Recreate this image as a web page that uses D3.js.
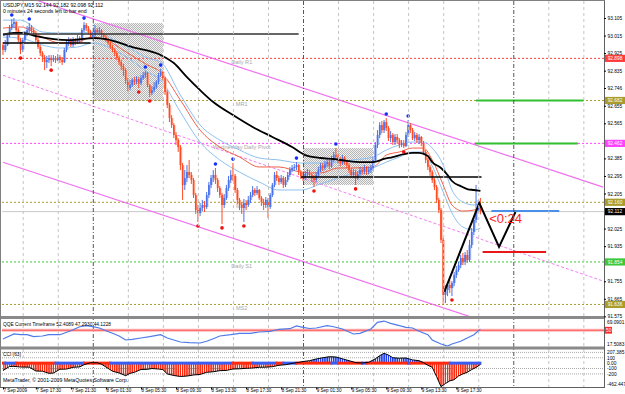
<!DOCTYPE html>
<html>
<head>
<meta charset="utf-8">
<script src="https://cdn.jsdelivr.net/npm/d3@7"></script>
<style>
  body { margin: 0; background: #fff; }
  svg { display: block; }
  text { font-family: "Liberation Sans", Arial, sans-serif; }
</style>
</head>
<body>
<svg id="chart" width="625" height="394"></svg>
<script>
// ---- bar data (USDJPY M15), bar 0 = 7 Sep 13:45 ----
const firstOpen = 92.966;
const closes = [
  92.941,92.966,93.018,93.053,93.074,93.084,93.043,92.992,92.941,92.992,
  93.028,93.043,93.059,93.043,93.028,92.992,92.956,92.925,92.905,92.879,
  92.889,92.900,92.889,92.900,92.889,92.905,92.889,92.879,92.941,92.977,
  92.992,92.966,92.992,92.982,93.002,92.992,93.043,93.069,93.053,93.033,
  93.007,93.018,93.043,93.033,93.043,93.018,93.007,92.992,92.977,92.956,
  92.941,92.925,92.900,92.879,92.858,92.838,92.787,92.746,92.761,92.787,
  92.776,92.792,92.771,92.797,92.812,92.823,92.761,92.720,92.735,92.751,
  92.776,92.812,92.828,92.797,92.725,92.659,92.592,92.556,92.505,92.479,
  92.443,92.351,92.249,92.284,92.315,92.300,92.274,92.197,92.120,92.105,
  92.131,92.146,92.136,92.197,92.249,92.284,92.300,92.274,92.233,92.197,
  92.146,92.182,92.233,92.274,92.300,92.295,92.223,92.172,92.146,92.131,
  92.156,92.146,92.172,92.197,92.223,92.208,92.223,92.182,92.161,92.146,
  92.172,92.136,92.197,92.249,92.300,92.284,92.264,92.284,92.249,92.274,
  92.300,92.325,92.336,92.341,92.351,92.315,92.295,92.284,92.305,92.315,
  92.300,92.284,92.274,92.300,92.325,92.346,92.336,92.356,92.366,92.346,
  92.377,92.402,92.392,92.377,92.361,92.387,92.366,92.351,92.325,92.300,
  92.315,92.284,92.305,92.325,92.315,92.336,92.315,92.325,92.336,92.377,
  92.454,92.505,92.556,92.530,92.571,92.541,92.489,92.505,92.469,92.495,
  92.479,92.454,92.464,92.448,92.505,92.556,92.530,92.489,92.505,92.479,
  92.495,92.464,92.418,92.377,92.341,92.315,92.274,92.238,92.172,92.120,
  91.967,91.685,91.710,91.736,91.720,91.746,91.787,91.813,91.838,91.874,
  91.854,91.890,91.864,91.941,92.008,92.069,92.120,92.144,92.112
];
const highs = [
  92.982,92.992,93.028,93.069,93.100,93.105,93.089,93.053,93.002,93.002,
  93.038,93.064,93.079,93.069,93.053,93.038,93.002,92.966,92.935,92.915,
  92.910,92.915,92.915,92.915,92.910,92.920,92.915,92.905,92.951,92.992,
  93.007,93.002,93.007,93.002,93.018,93.012,93.053,93.084,93.079,93.064,
  93.043,93.033,93.069,93.053,93.059,93.048,93.028,93.018,93.002,92.987,
  92.966,92.951,92.935,92.910,92.889,92.869,92.848,92.797,92.787,92.797,
  92.802,92.807,92.802,92.812,92.828,92.833,92.828,92.766,92.756,92.776,
  92.787,92.823,92.843,92.833,92.802,92.735,92.669,92.607,92.566,92.520,
  92.489,92.454,92.361,92.325,92.351,92.377,92.315,92.284,92.208,92.146,
  92.156,92.172,92.167,92.213,92.264,92.300,92.325,92.336,92.284,92.243,
  92.208,92.202,92.249,92.295,92.325,92.361,92.305,92.233,92.182,92.161,
  92.177,92.172,92.192,92.213,92.243,92.233,92.243,92.228,92.192,92.177,
  92.187,92.182,92.208,92.259,92.315,92.320,92.295,92.300,92.295,92.290,
  92.315,92.341,92.351,92.356,92.366,92.356,92.325,92.315,92.320,92.331,
  92.325,92.310,92.300,92.315,92.341,92.361,92.361,92.372,92.387,92.377,
  92.397,92.418,92.438,92.407,92.392,92.402,92.397,92.377,92.361,92.336,
  92.331,92.325,92.320,92.341,92.336,92.351,92.346,92.341,92.351,92.392,
  92.469,92.530,92.571,92.577,92.582,92.592,92.551,92.525,92.515,92.510,
  92.510,92.489,92.479,92.479,92.520,92.582,92.566,92.541,92.520,92.515,
  92.510,92.500,92.474,92.428,92.387,92.351,92.325,92.284,92.249,92.182,
  92.131,91.977,91.736,91.751,91.761,91.756,91.803,91.833,91.854,91.890,
  91.900,91.905,91.915,91.967,92.028,92.090,92.249,92.172,92.182
];
const lows = [
  92.915,92.930,92.961,93.007,93.043,93.053,93.033,92.982,92.920,92.930,
  92.982,93.012,93.028,93.028,93.012,92.982,92.946,92.910,92.879,92.838,
  92.848,92.874,92.858,92.879,92.874,92.884,92.874,92.864,92.874,92.930,
  92.961,92.956,92.956,92.966,92.971,92.977,92.982,93.033,93.038,93.023,
  92.997,92.997,93.007,93.023,93.023,93.007,92.997,92.982,92.966,92.946,
  92.930,92.910,92.889,92.864,92.838,92.807,92.766,92.730,92.735,92.751,
  92.761,92.766,92.746,92.761,92.787,92.797,92.751,92.700,92.710,92.725,
  92.741,92.766,92.802,92.787,92.710,92.643,92.571,92.541,92.489,92.454,
  92.418,92.325,92.172,92.223,92.264,92.284,92.254,92.182,92.100,92.059,
  92.090,92.115,92.110,92.126,92.182,92.233,92.264,92.254,92.213,92.182,
  92.049,92.131,92.172,92.218,92.259,92.269,92.208,92.151,92.120,92.100,
  92.059,92.120,92.136,92.156,92.187,92.192,92.197,92.172,92.141,92.120,
  92.131,92.079,92.126,92.187,92.238,92.269,92.249,92.254,92.233,92.238,
  92.264,92.290,92.315,92.320,92.325,92.300,92.279,92.269,92.274,92.290,
  92.284,92.264,92.238,92.264,92.290,92.315,92.320,92.325,92.341,92.331,
  92.336,92.366,92.377,92.361,92.346,92.351,92.351,92.336,92.310,92.284,
  92.284,92.249,92.274,92.295,92.300,92.305,92.300,92.305,92.310,92.325,
  92.366,92.438,92.489,92.515,92.515,92.525,92.474,92.469,92.454,92.454,
  92.459,92.438,92.443,92.438,92.443,92.495,92.515,92.479,92.474,92.464,
  92.459,92.448,92.402,92.361,92.325,92.295,92.259,92.223,92.156,92.105,
  91.951,91.633,91.643,91.679,91.695,91.679,91.730,91.772,91.803,91.823,
  91.838,91.838,91.849,91.854,91.925,91.992,92.054,92.105,92.098
];

// fractal markers (bar index)
const fractalUp = [4, 12, 37, 65, 72, 97, 105, 134, 152, 175, 185];
const fractalDown = [8, 22, 62, 67, 89, 100, 110, 142, 161, 183, 205];

// slow moving average (black)
const maIdx = [0,5,9,15,30,42,47,59,72,78,84,90,96,105,114,123,132,138,145,151,157,163,169,174,178,183,187,190,194,196,200,203,205,209,212,215,218];
const maVals = [93.018,93.028,93.028,93.012,92.992,93.002,92.997,92.956,92.915,92.874,92.802,92.735,92.674,92.607,92.546,92.495,92.443,92.402,92.387,92.382,92.372,92.366,92.366,92.382,92.392,92.407,92.413,92.413,92.397,92.366,92.336,92.300,92.269,92.243,92.228,92.223,92.218];

// fast average (red) with its envelope (light blue)
const bandIdx = [0,8,18,26,34,41,47,57,66,72,81,90,99,108,117,126,136,145,153,160,169,175,181,187,192,196,201,205,210,215,218];
const bandUp = [93.094,93.094,93.033,93.028,93.028,93.033,93.012,92.956,92.900,92.879,92.710,92.556,92.479,92.428,92.387,92.377,92.361,92.361,92.366,92.377,92.392,92.428,92.454,92.469,92.469,92.438,92.351,92.223,92.161,92.146,92.156];
const bandMid = [93.053,93.059,93.007,92.977,92.982,93.007,92.992,92.925,92.864,92.828,92.684,92.530,92.443,92.392,92.341,92.341,92.315,92.310,92.336,92.336,92.341,92.402,92.418,92.438,92.438,92.377,92.249,92.146,92.115,92.120,92.136];
const bandLow = [93.007,93.002,92.966,92.951,92.956,92.977,92.961,92.900,92.828,92.787,92.623,92.469,92.377,92.315,92.264,92.223,92.223,92.254,92.284,92.310,92.336,92.366,92.392,92.418,92.418,92.346,92.213,92.105,92.033,92.018,92.028];

// pivot levels
const pivotVals = [92.898, 92.682, 92.462, 92.160, 91.854, 91.636];
const pivotNames = ["Daily R1", "MR1", "Wednesday Daily Pivot", "MS1", "Daily S1", "MS2"];
const pivotColors = ["#ff3c3c", "#a99b2c", "#ff44ff", "#a99b2c", "#3cc83c", "#a99b2c"];
const bidPrice = 92.112;

// drawn objects: [startBar, endBar, price] etc.
const boxes = [[41, 73, 93.079, 92.679], [137, 169, 92.438, 92.249]];
const blackLevels = [[0, 135, 93.023], [0, 40, 92.977], [136, 218.5, 92.290]];
const channelSolid = [[[0, 93.253], [274, 92.238]], [[0, 92.365], [274, 91.348]]];
const channelMid = [[0, 92.811], [274, 91.756]];
const greenSegs = [[216, 265, 92.682], [215.5, 262.5, 92.462]];
const blueSeg = [223, 254, 92.115];
const redSeg = [219, 248, 91.905];
const zigIdx = [201.5, 217.5, 226.5, 234];
const zigVals = [91.700, 92.156, 91.931, 92.110];
const countdown = { bar: 222, price: 92.056, text: "<0:24" };

// price axis ticks (92.475 and 91.845 sit under the magenta / green tags)
const priceTicks = [93.105, 93.015, 92.925, 92.835, 92.746, 92.655, 92.565, 92.385, 92.295, 92.205, 92.025, 91.935, 91.755, 91.665, 91.575];

// time axis
const timeIdx = [0, 15, 31, 47, 63, 79, 95, 111, 127, 143, 159, 175, 191, 207];
const timeLabels = ["7 Sep 2009", "7 Sep 17:30", "7 Sep 21:30", "8 Sep 01:30", "8 Sep 05:30", "8 Sep 09:30", "8 Sep 13:30", "8 Sep 17:30", "8 Sep 21:30", "9 Sep 01:30", "9 Sep 05:30", "9 Sep 09:30", "9 Sep 13:30", "9 Sep 17:30"];
const gridIdx = [9, 25, 57, 73, 89, 105, 121, 153, 169, 185, 201, 217, 249, 265];
const dayIdx = [41, 137, 233];

// QQE sub window
const qqeIdx = [0,5,8,11,14,18,21,26,31,35,38,41,44,47,50,53,56,59,63,67,72,75,78,81,85,90,93,96,99,104,108,113,117,122,126,131,134,137,140,143,148,151,155,160,163,168,171,174,177,181,184,187,190,194,196,200,203,205,209,212,215,218];
const qqeVals = [31.9,42.3,40.8,40.8,36.7,38.1,40.8,40.8,49.1,57.3,59.4,57.3,54.6,49.1,43.7,38.1,29.9,31.3,34.0,36.7,40.8,34.0,29.9,25.8,24.3,23.7,27.2,32.6,38.1,40.8,43.7,43.7,46.4,47.8,52.0,53.2,58.8,56.1,53.6,54.6,59.4,57.3,52.6,42.3,43.7,52.6,66.4,69.0,64.3,59.4,56.1,54.6,47.8,40.8,29.9,21.6,17.5,21.6,27.2,34.0,40.8,52.4];
const qqeLevel = 50;

// CCI sub window
const cciIdx = [0,3,5,8,12,15,18,21,23,26,29,32,35,37,40,43,45,47,50,53,56,58,60,63,66,68,71,73,75,78,81,84,87,90,93,96,99,102,105,108,111,114,117,120,123,126,129,132,134,137,140,143,146,149,152,155,158,161,164,167,170,172,174,176,178,181,184,187,190,192,194,196,198,200,202,204,206,208,210,212,214,216,218];
const cciVals = [-137,-62,-60,-72,-75,-146,-150,-189,-185,-113,-110,-77,-70,-29,8,8,-20,-72,-150,-183,-233,-190,-170,-118,-115,-100,-109,-120,-200,-230,-248,-240,-220,-210,-170,-160,-140,-135,-109,-105,-96,-90,-77,-75,-66,-40,-29,-5,8,30,46,77,100,120,115,80,46,10,3,16,80,139,183,150,100,92,96,60,46,10,-40,-77,-250,-438,-380,-330,-308,-240,-200,-170,-120,-80,-25];
const cciLevels = [200, 100, -100, -200];
const cciAxis = [207.385, 100, 0, -100, -200, -462.447];
const cciAxisText = ["207.385", "100", "0.00", "-100", "-200", "-462.447"];
const stripBreaks = [0,1,6,24,37,49,105,114,125,128,134,150,153,164,166,185,186,204,218];
const stripColors = ["r","b","r","b","r","b","r","b","r","b","r","b","r","b","r","b","r","b"];

// ---- scales ----
const UP = "#4a72ea", DN = "#ff4a24";
const x = d3.scaleLinear().domain([0, 275]).range([3, 3 + 275 * 2.19]);
const y = d3.scaleLinear().domain([91.56, 93.2]).range([319.275, -0.525]);
const yQ = d3.scaleLinear().domain([17.5083, 69.0901]).range([346, 321]);
const yC = d3.scaleLinear().domain([-462.447, 207.385]).range([388, 352]);

const svg = d3.select("#chart");
svg.append("rect").attr("width", 625).attr("height", 394).attr("fill", "#fff");
const defs = svg.append("defs");

function clip(id, x0, y0, x1, y1) {
  defs.append("clipPath").attr("id", id).append("rect")
    .attr("x", x0).attr("y", y0).attr("width", x1 - x0).attr("height", y1 - y0);
}
clip("clipMain", 2, 1, 604, 316);
clip("clipQ", 2, 319.5, 604, 346.5);
clip("clipC", 2, 349.5, 604, 387);
clip("clipPos", 2, 349.5, 604, yC(0));
clip("clipNeg", 2, yC(0), 604, 387);

const dither = defs.append("pattern").attr("id", "dither").attr("width", 2).attr("height", 2).attr("patternUnits", "userSpaceOnUse");
dither.append("rect").attr("width", 2).attr("height", 2).attr("fill", "#f2f2f2");
dither.append("rect").attr("width", 1).attr("height", 1).attr("fill", "#b4b4b4");
dither.append("rect").attr("x", 1).attr("y", 1).attr("width", 1).attr("height", 1).attr("fill", "#b4b4b4");

function stripes(id, color) {
  const p = defs.append("pattern").attr("id", id).attr("width", 2.19).attr("height", 10)
    .attr("patternUnits", "userSpaceOnUse").attr("x", x(0) - 0.7);
  p.append("rect").attr("width", 1.5).attr("height", 10).attr("fill", color);
}
stripes("stripeRed", "#ff2a10");
stripes("stripeBlue", "#2040f0");

// ---- main window ----
const main = svg.append("g").attr("clip-path", "url(#clipMain)");

main.selectAll(".box").data(boxes).join("rect")
  .attr("x", d => x(d[0])).attr("width", d => x(d[1]) - x(d[0]))
  .attr("y", d => y(d[2])).attr("height", d => y(d[3]) - y(d[2]))
  .attr("fill", "url(#dither)");

// vertical grid, all windows
const grid = svg.append("g");
grid.selectAll(".vg").data(gridIdx).join("line")
  .attr("x1", d => x(d) + 0.5).attr("x2", d => x(d) + 0.5).attr("y1", 1).attr("y2", 387)
  .attr("stroke", "#c4c4c4").attr("stroke-dasharray", "3,3");
grid.selectAll(".vd").data(dayIdx).join("line")
  .attr("x1", d => x(d) + 0.5).attr("x2", d => x(d) + 0.5).attr("y1", 1).attr("y2", 387)
  .attr("stroke", "#555").attr("stroke-dasharray", "4,2,1,2");

// pivot levels and bid line
main.append("line").attr("x1", 2).attr("x2", 604).attr("y1", y(bidPrice)).attr("y2", y(bidPrice))
  .attr("stroke", "#c8c8c8").attr("stroke-width", 1);
main.selectAll(".pv").data(pivotVals).join("line")
  .attr("x1", 2).attr("x2", 604).attr("y1", d => y(d)).attr("y2", d => y(d))
  .attr("stroke", (d, i) => pivotColors[i]).attr("stroke-dasharray", "2,2").attr("stroke-width", 1);
main.selectAll(".pvt").data(pivotVals).join("text")
  .attr("x", x(109)).attr("y", d => y(d) + 6).attr("text-anchor", "middle")
  .attr("font-size", 5.6).attr("fill", "#a8a8a8").text((d, i) => pivotNames[i]);

// channel
const line2 = d3.line().x(d => x(d[0])).y(d => y(d[1]));
main.selectAll(".ch").data(channelSolid).join("path")
  .attr("d", line2).attr("fill", "none").attr("stroke", "#f070f0").attr("stroke-width", 1.2);
main.append("path").attr("d", line2(channelMid)).attr("fill", "none")
  .attr("stroke", "#f47ef4").attr("stroke-width", 1).attr("stroke-dasharray", "3,2");

// fast average envelope
const curve = (idx, vals) => d3.line().x((d, i) => x(idx[i])).y(d => y(d)).curve(d3.curveMonotoneX)(vals);
main.append("path").attr("d", curve(bandIdx, bandUp)).attr("fill", "none").attr("stroke", "#8ec0f0").attr("stroke-width", 1);
main.append("path").attr("d", curve(bandIdx, bandLow)).attr("fill", "none").attr("stroke", "#8ec0f0").attr("stroke-width", 1);
main.append("path").attr("d", curve(bandIdx, bandMid)).attr("fill", "none").attr("stroke", "#f06048").attr("stroke-width", 1);

// candles
const bars = closes.map((c, i) => ({ i, o: i ? closes[i - 1] : firstOpen, h: highs[i], l: lows[i], c }));
main.selectAll(".shade").data(bars).join("rect")
  .attr("x", d => x(d.i) - 0.2).attr("width", 2)
  .attr("y", d => y(Math.max(d.o, d.c))).attr("height", d => Math.max(1, Math.abs(y(d.o) - y(d.c))))
  .attr("fill", d => d.c >= d.o ? "#b8c8f4" : "#ffc4b4");
main.selectAll(".wick").data(bars).join("line")
  .attr("x1", d => x(d.i)).attr("x2", d => x(d.i))
  .attr("y1", d => y(d.h)).attr("y2", d => y(d.l))
  .attr("stroke", d => d.c >= d.o ? UP : DN).attr("stroke-width", 1);
main.selectAll(".body").data(bars).join("rect")
  .attr("x", d => x(d.i) - 0.8).attr("width", 1.6)
  .attr("y", d => y(Math.max(d.o, d.c))).attr("height", d => Math.max(1, Math.abs(y(d.o) - y(d.c))))
  .attr("fill", d => d.c >= d.o ? UP : DN);

// slow average
main.append("path").attr("d", curve(maIdx, maVals)).attr("fill", "none").attr("stroke", "#000").attr("stroke-width", 1.8);

// session levels
main.selectAll(".bl").data(blackLevels).join("line")
  .attr("x1", d => x(d[0])).attr("x2", d => x(d[1])).attr("y1", d => y(d[2])).attr("y2", d => y(d[2]))
  .attr("stroke", (d, i) => i === 0 ? "#333" : "#000").attr("stroke-width", 1.6);

// fractals
main.selectAll(".fu").data(fractalUp).join("circle")
  .attr("cx", d => x(d)).attr("cy", d => y(highs[d]) - 4).attr("r", 1.8).attr("fill", "#1530ff");
main.selectAll(".fd").data(fractalDown).join("circle")
  .attr("cx", d => x(d)).attr("cy", d => y(lows[d]) + 4).attr("r", 1.8).attr("fill", "#f01010");

// projection objects
main.selectAll(".gs").data(greenSegs).join("line")
  .attr("x1", d => x(d[0])).attr("x2", d => x(d[1])).attr("y1", d => y(d[2])).attr("y2", d => y(d[2]))
  .attr("stroke", "#30c030").attr("stroke-width", 2);
main.append("line").attr("x1", x(blueSeg[0])).attr("x2", x(blueSeg[1])).attr("y1", y(blueSeg[2])).attr("y2", y(blueSeg[2]))
  .attr("stroke", "#4a90e8").attr("stroke-width", 2);
main.append("line").attr("x1", x(redSeg[0])).attr("x2", x(redSeg[1])).attr("y1", y(redSeg[2])).attr("y2", y(redSeg[2]))
  .attr("stroke", "#e81818").attr("stroke-width", 2);
main.append("path").attr("d", d3.line().x((d, i) => x(zigIdx[i])).y(d => y(d))(zigVals))
  .attr("fill", "none").attr("stroke", "#000").attr("stroke-width", 2);
main.append("text").attr("x", x(countdown.bar)).attr("y", y(countdown.price))
  .attr("font-size", 13).attr("fill", "#ff1a1a").text(countdown.text);

// ---- frames ----
svg.append("rect").attr("x", 0).attr("y", 316).attr("width", 604).attr("height", 3).attr("fill", "#8a8a8a");
svg.append("rect").attr("x", 0).attr("y", 346.5).attr("width", 604).attr("height", 3).attr("fill", "#8a8a8a");
svg.append("line").attr("x1", 0.5).attr("x2", 0.5).attr("y1", 0).attr("y2", 387).attr("stroke", "#808080");
svg.append("line").attr("x1", 604.5).attr("x2", 604.5).attr("y1", 0).attr("y2", 387).attr("stroke", "#606060");
svg.append("line").attr("x1", 0).attr("x2", 605).attr("y1", 0.5).attr("y2", 0.5).attr("stroke", "#808080");
svg.append("line").attr("x1", 0).attr("x2", 605).attr("y1", 387.5).attr("y2", 387.5).attr("stroke", "#606060");

// price axis
const pAxis = svg.append("g").attr("transform", "translate(604,0)")
  .call(d3.axisRight(y).tickValues(priceTicks).tickFormat(d => d.toFixed(3)).tickSize(2).tickPadding(1.5));
pAxis.select(".domain").remove();
pAxis.selectAll("text").attr("font-size", 4.8).attr("font-family", "Liberation Sans, Arial");

function priceTag(v, txt, color) {
  const g = svg.append("g").attr("transform", `translate(605,${y(v)})`);
  g.append("rect").attr("x", 0).attr("y", -3.6).attr("width", 20).attr("height", 7.2).attr("fill", color);
  g.append("text").attr("x", 10).attr("y", 1.8).attr("text-anchor", "middle").attr("font-size", 4.8).attr("fill", "#fff").text(txt);
}
pivotVals.forEach((v, i) => priceTag(v, v.toFixed(3), pivotColors[i]));
priceTag(bidPrice, bidPrice.toFixed(3), "#000");

// ---- QQE window ----
const qq = svg.append("g").attr("clip-path", "url(#clipQ)");
qq.append("line").attr("x1", 2).attr("x2", 604).attr("y1", yQ(qqeLevel)).attr("y2", yQ(qqeLevel))
  .attr("stroke", "#ffb8b8").attr("stroke-width", 3);
qq.append("line").attr("x1", 2).attr("x2", 604).attr("y1", yQ(qqeLevel)).attr("y2", yQ(qqeLevel))
  .attr("stroke", "#ff5a5a").attr("stroke-width", 1);
qq.append("path").attr("d", d3.line().x((d, i) => x(qqeIdx[i])).y(d => yQ(d))(qqeVals))
  .attr("fill", "none").attr("stroke", "#4f7be8").attr("stroke-width", 1.2);
svg.append("text").attr("x", 3).attr("y", 326).attr("font-size", 4.8).attr("fill", "#000")
  .text("QQE Current Timeframe 52.4089 47.2930 44.1228");
svg.append("text").attr("x", 607).attr("y", 324).attr("font-size", 4.8).text("69.0901");
svg.append("text").attr("x", 607).attr("y", 346).attr("font-size", 4.8).text("17.5083");
svg.append("rect").attr("x", 605).attr("y", yQ(qqeLevel) - 3.4).attr("width", 7).attr("height", 6.8).attr("fill", "#ff2a2a");
svg.append("text").attr("x", 606).attr("y", yQ(qqeLevel) + 1.8).attr("font-size", 4.8).attr("fill", "#fff").text("50");

// ---- CCI window ----
const cc = svg.append("g").attr("clip-path", "url(#clipC)");
cc.selectAll(".lv").data(cciLevels).join("line")
  .attr("x1", 2).attr("x2", 604).attr("y1", d => yC(d)).attr("y2", d => yC(d))
  .attr("stroke", "#a8a8a8").attr("stroke-dasharray", "1,1");
const cciArea = d3.area().x((d, i) => x(cciIdx[i])).y0(yC(0)).y1(d => yC(d));
cc.append("g").attr("clip-path", "url(#clipPos)").append("path").attr("d", cciArea(cciVals)).attr("fill", "url(#stripeBlue)");
cc.append("g").attr("clip-path", "url(#clipNeg)").append("path").attr("d", cciArea(cciVals)).attr("fill", "url(#stripeRed)");
const strips = stripColors.map((c, k) => ({ a: stripBreaks[k], b: stripBreaks[k + 1], c }));
cc.selectAll(".st").data(strips).join("rect")
  .attr("x", d => x(d.a) - 1).attr("width", d => x(d.b) - x(d.a) + 2)
  .attr("y", yC(0) - 1.5).attr("height", 3)
  .attr("fill", d => d.c === "r" ? "#ff2a10" : "#3a5cf0");
cc.append("path").attr("d", d3.line().x((d, i) => x(cciIdx[i])).y(d => yC(d))(cciVals))
  .attr("fill", "none").attr("stroke", "#000").attr("stroke-width", 1);
svg.append("text").attr("x", 3).attr("y", 356).attr("font-size", 4.8).text("CCI (63)");
svg.append("text").attr("x", 3).attr("y", 382).attr("font-size", 5.2)
  .text("MetaTrader, \u00a9 2001-2009 MetaQuotes Software Corp.");
svg.selectAll(".ca").data(cciAxis).join("text")
  .attr("x", 607).attr("y", d => Math.min(386, yC(d) + 1.8)).attr("font-size", 4.8)
  .text((d, i) => cciAxisText[i]);

// ---- time axis ----
const tAxis = svg.append("g").attr("transform", "translate(0,387.5)")
  .call(d3.axisBottom(x).tickValues(timeIdx).tickFormat((d, i) => timeLabels[i]).tickSize(2).tickPadding(1));
tAxis.select(".domain").remove();
tAxis.selectAll("text").attr("font-size", 4.6).attr("text-anchor", "start").attr("x", 0)
  .attr("y", 4.6).attr("dy", 0).attr("font-family", "Liberation Sans, Arial");

// ---- header ----
svg.append("text").attr("x", 3).attr("y", 6.5).attr("font-size", 5.2).text("USDJPY,M15  92.144 92.182 92.098 92.112");
svg.append("text").attr("x", 3).attr("y", 12.5).attr("font-size", 5.2).text("0 minutes 24 seconds left to bar end");
</script>
</body>
</html>
